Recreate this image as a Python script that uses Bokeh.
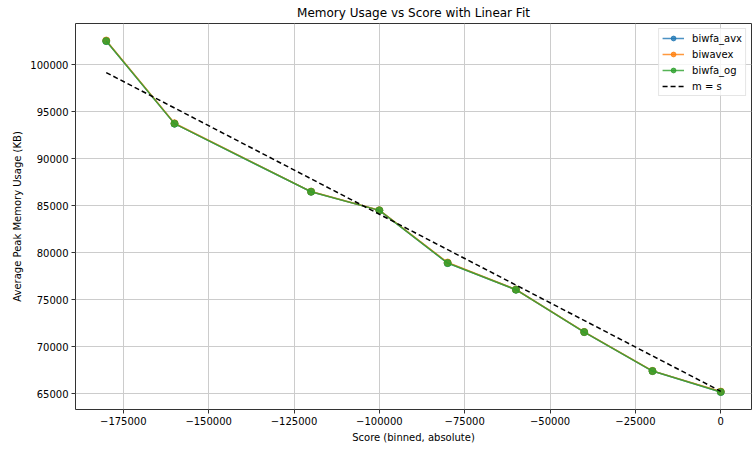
from bokeh.plotting import figure
from bokeh.models import Range1d, FixedTicker, Legend, BasicTickFormatter
from bokeh.embed import file_html
from bokeh.resources import INLINE

# ---- data ----
scores = [-180000, -160000, -120000, -100000, -80000, -60000, -40000, -20000, 0]
mem_avx = [102500, 93720, 86480, 84500, 78900, 76070, 71560, 67420, 65200]
mem_wavex = [102560, 93760, 86500, 84520, 78960, 76090, 71580, 67440, 65240]
mem_og = [102500, 93720, 86480, 84500, 78900, 76070, 71560, 67420, 65200]
fit_x = [-180000, 0]
fit_y = [99150, 65270]

x_ticks = [-175000, -150000, -125000, -100000, -75000, -50000, -25000, 0]
x_tick_labels = ["\u2212175000", "\u2212150000", "\u2212125000", "\u2212100000",
                 "\u221275000", "\u221250000", "\u221225000", "0"]
y_ticks = [65000, 70000, 75000, 80000, 85000, 90000, 95000, 100000]
y_tick_labels = ["65000", "70000", "75000", "80000", "85000", "90000", "95000", "100000"]

FONT = "DejaVu Sans"

p = figure(width=752, height=449, output_backend="svg", toolbar_location=None,
           x_range=Range1d(-189000, 9000), y_range=Range1d(63335, 104365),
           min_border_left=75, min_border_right=1, min_border_top=23,
           min_border_bottom=40)

p.title.text = "Memory Usage vs Score with Linear Fit"
p.title.align = "center"
p.title.text_font = FONT
p.title.text_font_size = "12px"
p.title.text_font_style = "normal"
p.title.text_color = "#000000"
p.title.standoff = 7

p.background_fill_color = "white"
p.border_fill_color = "white"
p.outline_line_color = "#333333"
p.outline_line_width = 1

for ax in (p.xaxis[0], p.yaxis[0]):
    ax.axis_line_color = None
    ax.major_tick_out = 4
    ax.major_tick_in = 0
    ax.major_tick_line_color = "#333333"
    ax.minor_tick_line_color = None
    ax.major_label_text_font = FONT
    ax.major_label_text_font_size = "10px"
    ax.major_label_text_color = "#000000"
    ax.axis_label_text_font = FONT
    ax.axis_label_text_font_size = "10px"
    ax.axis_label_text_font_style = "normal"
    ax.axis_label_text_color = "#000000"
    ax.major_label_standoff = 3

p.xaxis[0].ticker = FixedTicker(ticks=x_ticks)
p.xaxis[0].major_label_overrides = {t: l for t, l in zip(x_ticks, x_tick_labels)}
p.yaxis[0].ticker = FixedTicker(ticks=y_ticks)
p.yaxis[0].formatter = BasicTickFormatter(use_scientific=False)
p.yaxis[0].major_label_overrides = {t: l for t, l in zip(y_ticks, y_tick_labels)}
p.xaxis[0].axis_label = "Score (binned, absolute)"
p.yaxis[0].axis_label = "Average Peak Memory Usage (KB)"
p.xaxis[0].axis_label_standoff = 4
p.yaxis[0].axis_label_standoff = 4

p.xgrid.ticker = FixedTicker(ticks=x_ticks)
p.ygrid.ticker = FixedTicker(ticks=y_ticks)
for g in (p.xgrid[0], p.ygrid[0]):
    g.grid_line_color = "#cccccc"
    g.grid_line_width = 1

legend = Legend(location="top_right", margin=5)
p.add_layout(legend)

series = [("biwfa_avx", mem_avx, "#1f77b4"),
          ("biwavex", mem_wavex, "#ff7f0e"),
          ("biwfa_og", mem_og, "#2ca02c")]
for name, ys, col in series:
    p.line(scores, ys, line_color=col, line_width=1.5, line_alpha=0.8, legend_label=name)
    p.scatter(scores, ys, size=7, fill_color=col, line_color=col, alpha=0.8,
              legend_label=name)

p.line(fit_x, fit_y, line_color="black", line_width=1.5, line_dash="5 3",
       legend_label="m = s")

lg = p.legend[0]
lg.label_text_font = FONT
lg.label_text_font_size = "10px"
lg.label_text_color = "#000000"
lg.glyph_width = 22
lg.glyph_height = 12
lg.label_height = 12
lg.label_standoff = 8
lg.spacing = 4
lg.padding = 3
lg.border_line_color = "#cccccc"
lg.border_line_width = 1
lg.background_fill_color = "white"
lg.background_fill_alpha = 0.8

open("out.html", "w").write(file_html(p, INLINE))
